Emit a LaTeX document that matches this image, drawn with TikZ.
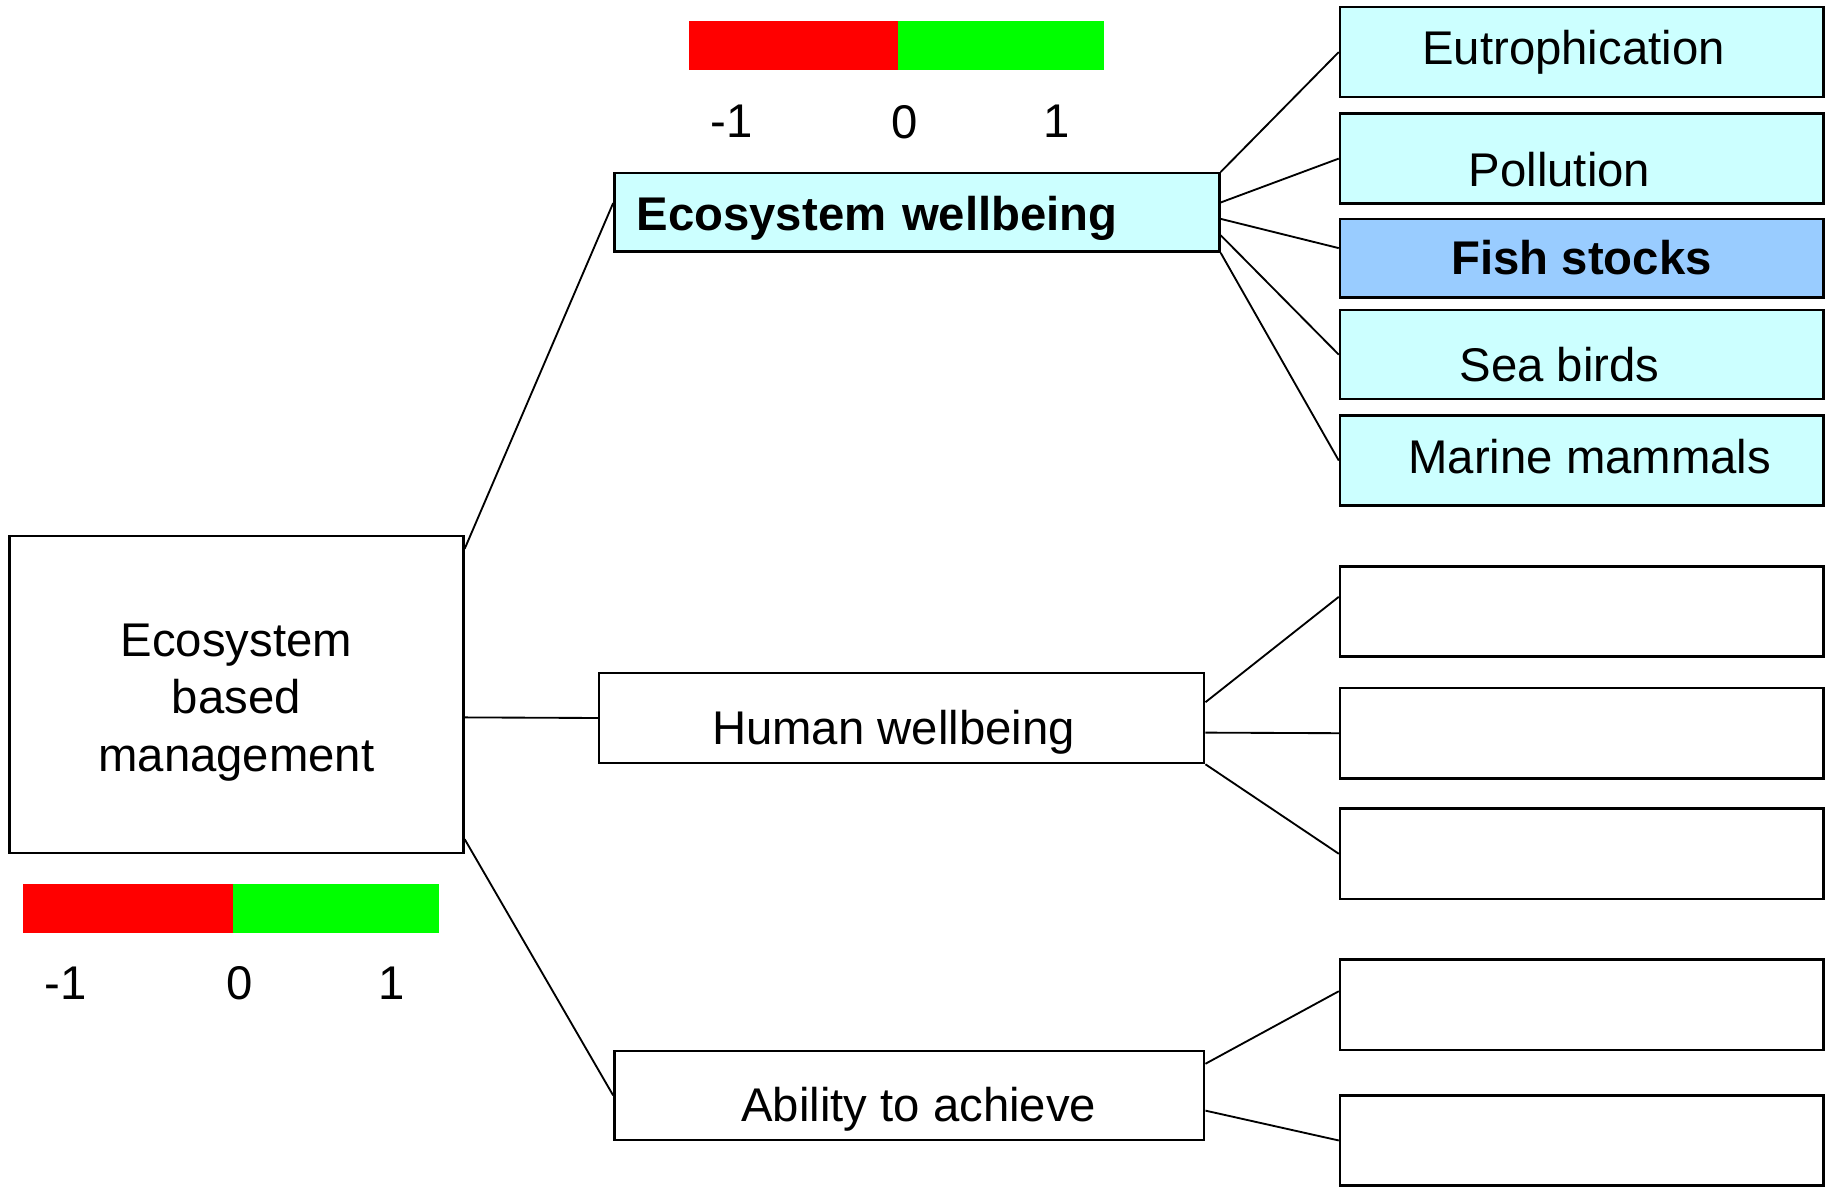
\documentclass[tikz,border=0pt]{standalone}
\usepackage{fontspec}
\setmainfont{Liberation Sans}
\usetikzlibrary{positioning,calc}
\definecolor{aqua}{HTML}{CCFFFF}
\definecolor{sky}{HTML}{99CCFF}
\definecolor{barred}{HTML}{FF0000}
\definecolor{bargreen}{HTML}{00FF00}
\tikzset{box/.style={draw=black,line width=0.6pt,inner sep=0pt,font=\fontsize{11.5}{14}\selectfont}, leaf/.style={box,minimum width=4.13cm,minimum height=0.77cm}, stem/.style={box,minimum width=5.17cm,minimum height=0.77cm}, sit/.style={text height=#1,text depth=0pt}, push/.style={execute at begin node={\hspace*{#1}}}, link/.style={line width=0.45pt,draw=black}, tick/.style={font=\fontsize{11.5}{14}\selectfont,inner sep=0pt}}

\begin{document}
\begin{tikzpicture}
\useasboundingbox (0,0) rectangle (15.68,-10.15);
% root and colour scale
\node[box,align=center,minimum width=3.88cm,minimum height=2.71cm,text height=1.396cm,text depth=0.085cm] (ebm) at (2.02,-5.935) {Ecosystem\\based\\management};
\fill[barred] (0.20,-7.55) rectangle (1.99,-7.97);
\fill[bargreen] (1.99,-7.55) rectangle (3.75,-7.97);
\node[tick] (lm) at (0.56,-8.40) {-1};
\node[tick] (lz) at (2.05,-8.40) {0};
\node[tick] (lp) at (3.35,-8.40) {1};
% second level
\node[stem,fill=aqua,minimum height=0.67cm,text width=4.79cm,align=left,sit=0.31cm,font=\fontsize{11.5}{14}\selectfont\bfseries] (ew) at (7.835,-1.815) {Ecosystem wellbeing};
\node[stem,sit=0.45cm,push=-0.14cm] (hw) at (7.705,-6.135) {Human wellbeing};
\node[stem,minimum width=5.04cm,minimum height=0.76cm,sit=0.45cm,push=0.16cm] (aa) at (7.77,-9.36) {Ability to achieve};
\fill[barred] (5.89,-0.18) rectangle (7.67,-0.60);
\fill[bargreen] (7.67,-0.18) rectangle (9.43,-0.60);
\node[tick] (tm) at (6.25,-1.04) {-1};
\node[tick] (tz) at (7.73,-1.04) {0};
\node[tick] (tp) at (9.03,-1.04) {1};
% leaves
\node[leaf,fill=aqua,push=-0.14cm] (eut) at (13.515,-0.445) {Eutrophication};
\node[leaf,fill=aqua,sit=0.476cm,push=-0.38cm] (pol) at (13.515,-1.355) {Pollution};
\node[leaf,fill=sky,minimum height=0.67cm,font=\fontsize{11.5}{14}\selectfont\bfseries] (fish) at (13.515,-2.205) {Fish stocks};
\node[leaf,fill=aqua,minimum height=0.76cm,sit=0.456cm,push=-0.38cm] (sea) at (13.515,-3.03) {Sea birds};
\node[leaf,fill=aqua,sit=0.216cm,push=0.14cm] (mar) at (13.515,-3.935) {Marine mammals};
\node[leaf] (b1) at (13.515,-5.225) {};
\node[leaf] (b2) at (13.515,-6.265) {};
\node[leaf] (b3) at (13.515,-7.295) {};
\node[leaf] (b4) at (13.515,-8.585) {};
\node[leaf] (b5) at (13.515,-9.745) {};
% links
\draw[link] ([yshift=-0.12cm]ebm.north east)--([yshift=0.08cm]ew.west);
\draw[link] ([yshift=-0.195cm]ebm.east)--(hw.west);
\draw[link] ([yshift=0.13cm]ebm.south east)--(aa.west);
\draw[link] (ew.north east)--(eut.west);
\draw[link] ([yshift=0.085cm]ew.east)--(pol.west);
\draw[link] ([yshift=-0.055cm]ew.east)--([yshift=0.085cm]fish.west);
\draw[link] ([yshift=-0.195cm]ew.east)--(sea.west);
\draw[link] (ew.south east)--(mar.west);
\draw[link] ([yshift=0.135cm]hw.east)--([yshift=0.125cm]b1.west);
\draw[link] ([yshift=-0.125cm]hw.east)--(b2.west);
\draw[link] (hw.south east)--(b3.west);
\draw[link] ([yshift=-0.12cm]aa.north east)--([yshift=0.115cm]b4.west);
\draw[link] ([yshift=-0.13cm]aa.east)--(b5.west);
\end{tikzpicture}
\end{document}
